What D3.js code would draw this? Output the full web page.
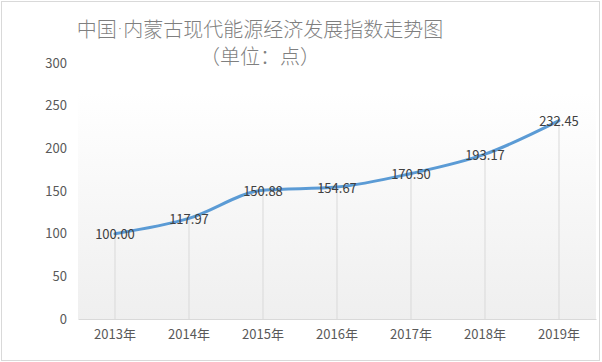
<!DOCTYPE html>
<html>
<head>
<meta charset="utf-8">
<script src="https://cdn.jsdelivr.net/npm/d3@7"></script>
<style>
  body { margin: 0; background: #fff; }
  text { font-family: "Noto Sans CJK SC", "Noto Sans", sans-serif; }
</style>
</head>
<body>
<svg width="602" height="362"></svg>
<script>
// données
const years = ['2013年', '2014年', '2015年', '2016年', '2017年', '2018年', '2019年'];
const values = [100.00, 117.97, 150.88, 154.67, 170.50, 193.17, 232.45];
const yTicks = [0, 50, 100, 150, 200, 250, 300];
const titleParts = ['中国', '·', '内蒙古现代能源经济发展指数走势图'];
const subtitle = '（单位：点）';

const svg = d3.select('svg');
const WIDTH = +svg.attr('width');
const HEIGHT = +svg.attr('height');

const plot = { left: 78, right: 596, top: 63, bottom: 319 };
const lineColor = '#5b9bd5';
const textColor = '#595959';

// cadre extérieur
svg.append('rect')
  .attr('x', 1.5).attr('y', 1.5)
  .attr('width', WIDTH - 4).attr('height', HEIGHT - 3)
  .attr('fill', '#fff')
  .attr('stroke', '#d9d9d9');

// dégradé du fond
const grad = svg.append('defs').append('linearGradient')
  .attr('id', 'bg').attr('x1', 0).attr('y1', 0).attr('x2', 0).attr('y2', 1);
grad.append('stop').attr('offset', '0%').attr('stop-color', '#ffffff');
grad.append('stop').attr('offset', '100%').attr('stop-color', '#efefef');

const x = d3.scaleBand()
  .domain(years)
  .range([plot.left, plot.right]);

const y = d3.scaleLinear()
  .domain([0, 300])
  .range([plot.bottom, plot.top]);

svg.append('rect')
  .attr('x', plot.left).attr('y', y(265))
  .attr('width', plot.right - plot.left)
  .attr('height', plot.bottom - y(265))
  .attr('fill', 'url(#bg)');

// titre (le point médian en police latine pour rester étroit)
const title = svg.append('text')
  .attr('x', 260)
  .attr('y', 28)
  .attr('text-anchor', 'middle')
  .attr('dominant-baseline', 'central')
  .attr('font-size', 20)
  .attr('font-weight', 300)
  .attr('fill', '#7f7f7f');
title.selectAll('tspan')
  .data(titleParts)
  .join('tspan')
  .style('font-family', (d, i) => i === 1 ? '"DejaVu Sans", sans-serif' : null)
  .text(d => d);

svg.append('text')
  .attr('x', 260)
  .attr('y', 55)
  .attr('text-anchor', 'middle')
  .attr('dominant-baseline', 'central')
  .attr('font-size', 20)
  .attr('font-weight', 300)
  .attr('fill', '#7f7f7f')
  .text(subtitle);

// axe Y
svg.append('g')
  .attr('transform', `translate(${plot.left},0)`)
  .call(d3.axisLeft(y).tickValues(yTicks).tickSize(0).tickPadding(11))
  .call(g => g.select('.domain').remove())
  .selectAll('text')
  .attr('font-size', 13)
  .attr('fill', textColor)
  .style('font-family', '"Noto Sans CJK SC", sans-serif');

// lignes verticales
svg.append('g')
  .selectAll('line')
  .data(values)
  .join('line')
  .attr('x1', (d, i) => x(years[i]) + x.bandwidth() / 2)
  .attr('x2', (d, i) => x(years[i]) + x.bandwidth() / 2)
  .attr('y1', d => y(d))
  .attr('y2', plot.bottom)
  .attr('stroke', '#d9d9d9');

// axe X
svg.append('g')
  .attr('transform', `translate(0,${plot.bottom})`)
  .call(d3.axisBottom(x).tickSize(0).tickPadding(11))
  .call(g => g.select('.domain').attr('stroke', '#d9d9d9'))
  .selectAll('text')
  .attr('font-size', 13)
  .attr('fill', textColor)
  .style('font-family', '"Noto Sans CJK SC", sans-serif');

// courbe
const linePathCreator = d3.line()
  .x((d, i) => x(years[i]) + x.bandwidth() / 2)
  .y(d => y(d))
  .curve(d3.curveMonotoneX);

svg.append('path')
  .attr('d', linePathCreator(values))
  .attr('fill', 'none')
  .attr('stroke', lineColor)
  .attr('stroke-width', 3)
  .attr('stroke-linecap', 'round');

// étiquettes
svg.append('g')
  .selectAll('text')
  .data(values)
  .join('text')
  .attr('x', (d, i) => x(years[i]) + x.bandwidth() / 2)
  .attr('y', d => y(d))
  .attr('text-anchor', 'middle')
  .attr('dominant-baseline', 'central')
  .attr('font-size', 13)
  .attr('fill', '#404040')
  .text(d => d.toFixed(2));
</script>
</body>
</html>
